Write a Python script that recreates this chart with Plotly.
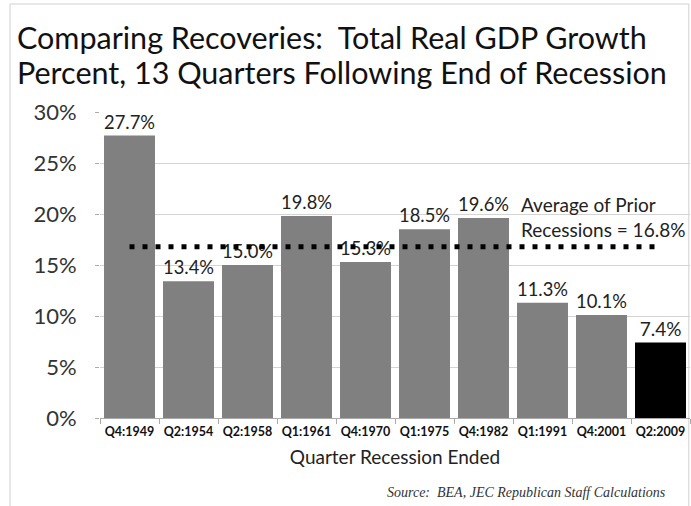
import plotly.graph_objects as go

categories = ["Q4:1949", "Q2:1954", "Q2:1958", "Q1:1961", "Q4:1970",
              "Q1:1975", "Q4:1982", "Q1:1991", "Q4:2001", "Q2:2009"]
growth = [27.7, 13.4, 15.0, 19.8, 15.3, 18.5, 19.6, 11.3, 10.1, 7.4]
average_prior = 16.8
bar_colors = ["#808080"] * 9 + ["#000000"]
y_ticks = [0, 5, 10, 15, 20, 25, 30]
y_ticktext = [f"{v}%" for v in y_ticks]

FONT = "Lato"

fig = go.Figure()
fig.add_trace(go.Bar(
    x=categories, y=growth,
    marker=dict(color=bar_colors, line=dict(width=0)),
    text=[f"{v:.1f}%" for v in growth],
    textposition="outside",
    textfont=dict(family=FONT, size=19, color="#222222"),
    cliponaxis=False,
    showlegend=False,
))
fig.add_trace(go.Scatter(
    x=[categories[0], categories[-1]], y=[average_prior, average_prior],
    mode="lines",
    line=dict(color="black", width=5, dash="5px,8px"),
    showlegend=False,
))

fig.add_annotation(
    x=categories[6], y=average_prior, xref="x", yref="y",
    text="Average of Prior<br>Recessions = 16.8%",
    showarrow=False, xanchor="left", yanchor="bottom",
    xshift=35, yshift=4, align="left",
    font=dict(family=FONT, size=19, color="#222222"),
)

fig.add_annotation(
    x=-0.144, y=1.245, xref="paper", yref="paper",
    text="Comparing Recoveries:  Total Real GDP Growth",
    showarrow=False, xanchor="left", yanchor="middle", align="left",
    font=dict(family=FONT, size=30.5, color="#111111"),
)
fig.add_annotation(
    x=-0.144, y=1.131, xref="paper", yref="paper",
    text="Percent, 13 Quarters Following End of Recession",
    showarrow=False, xanchor="left", yanchor="middle", align="left",
    font=dict(family=FONT, size=30.5, color="#111111"),
)
fig.add_annotation(
    x=0.963, y=-0.242, xref="paper", yref="paper",
    text="<i>Source:  BEA, JEC Republican Staff Calculations</i>",
    showarrow=False, xanchor="right", yanchor="middle",
    font=dict(family="Liberation Serif", size=14, color="#333333"),
)

fig.add_shape(type="rect", xref="paper", yref="paper",
              x0=-0.1525, x1=0.998, y0=-0.32, y1=1.353,
              line=dict(color="#d0d0d0", width=1), layer="below")

fig.update_layout(
    width=691, height=506,
    margin=dict(l=100, r=1, t=112, b=88),
    paper_bgcolor="white", plot_bgcolor="white",
    bargap=0.136,
    font=dict(family=FONT),
)
fig.update_xaxes(
    title_text="Quarter Recession Ended", title_standoff=12,
    title_font=dict(family=FONT, size=19, color="#222222"),
    tickfont=dict(family=FONT, size=12.5, color="#111111", weight="bold"),
    ticks="outside", tickson="boundaries", ticklen=5, tickcolor="#aaaaaa",
    ticklabelstandoff=2,
    showline=True, linecolor="#aaaaaa", linewidth=1,
    showgrid=False,
)
fig.update_yaxes(
    range=[0, 30], tickmode="array", tickvals=y_ticks, ticktext=y_ticktext,
    tickfont=dict(family=FONT, size=22, color="#333333"),
    showgrid=True, gridcolor="#d4d4d4", gridwidth=1,
    ticks="outside", ticklen=4, tickcolor="#aaaaaa",
    ticklabelstandoff=14,
    zeroline=False, showline=False,
)

fig.write_html(
    "out.html",
    config={"displayModeBar": False},
    post_script="document.body.style.margin='0px';document.body.style.overflow='hidden';",
)
